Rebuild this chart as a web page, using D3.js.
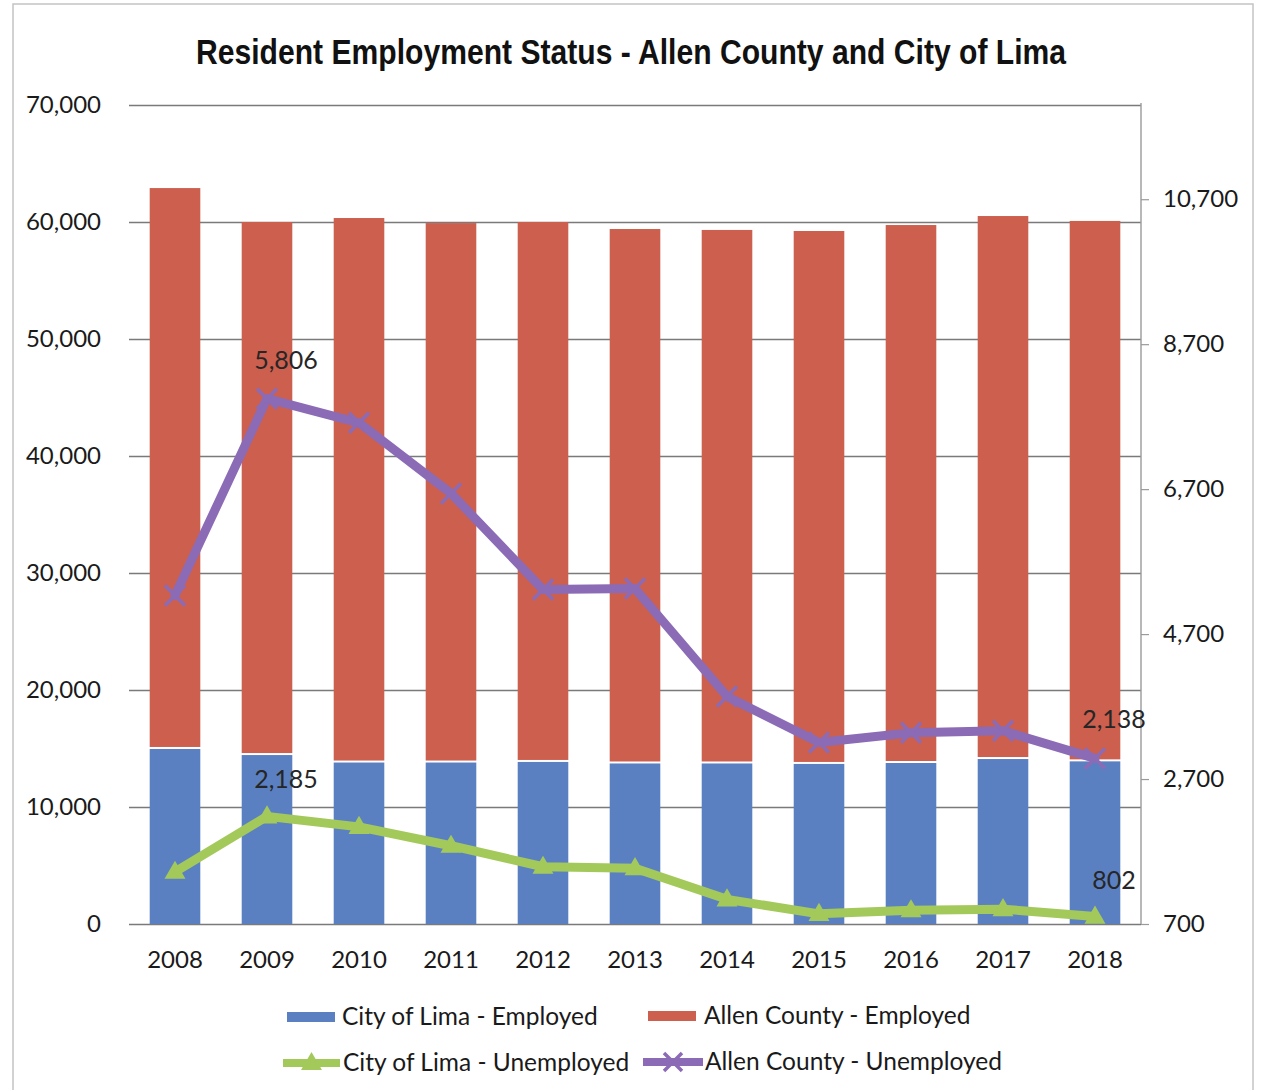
<!DOCTYPE html>
<html>
<head>
<meta charset="utf-8">
<script src="https://cdn.jsdelivr.net/npm/d3@7/dist/d3.min.js"></script>
<style>
  html, body { margin: 0; padding: 0; background: #fff; }
  svg { display: block; }
  .tick text { font-family: Lato, "Open Sans", sans-serif; fill: #1a1a1a; }
</style>
</head>
<body>
<svg id="chart" width="1261" height="1090"></svg>
<script>
// Resident employment figures, 2008-2018
const years = ["2008", "2009", "2010", "2011", "2012", "2013", "2014", "2015", "2016", "2017", "2018"];
const limaEmployed = [14960, 14440, 13800, 13800, 13850, 13720, 13720, 13680, 13760, 14100, 13900];
const countyEmployed = [47940, 45560, 46540, 46110, 46150, 45680, 45600, 45550, 45980, 46410, 46190];
const limaUnemployed = [1420, 2185, 2040, 1780, 1490, 1470, 1040, 840, 890, 905, 802];
const countyUnemployed = [3800, 5806, 5560, 4840, 3860, 3870, 2770, 2300, 2400, 2420, 2138];

// Axis ticks
const leftTicks = [0, 10000, 20000, 30000, 40000, 50000, 60000, 70000];
const rightTicks = [700, 2700, 4700, 6700, 8700, 10700];

// Years that carry a value label on the unemployment lines
const labelledYears = ["2009", "2018"];

const title = "Resident Employment Status - Allen County and City of Lima";
const legendItems = {
  limaEmp: "City of Lima - Employed",
  countyEmp: "Allen County - Employed",
  limaUnemp: "City of Lima - Unemployed",
  countyUnemp: "Allen County - Unemployed"
};

const colors = {
  limaEmp: "#5b80c2",
  countyEmp: "#cc5f4e",
  limaUnemp: "#a4c95b",
  countyUnemp: "#8c6bb6"
};

const rows = years.map((y, i) => ({
  year: y,
  limaEmp: limaEmployed[i],
  countyEmp: countyEmployed[i],
  limaUnemp: limaUnemployed[i],
  countyUnemp: countyUnemployed[i]
}));

const svg = d3.select("#chart");
const W = 1261, H = 1090;
const plot = { left: 129, right: 1141, top: 105, bottom: 924 };
const fontSize = 24;

svg.append("rect").attr("width", W).attr("height", H).attr("fill", "#fff");

// outer chart frame
svg.append("rect")
  .attr("x", 13).attr("y", 4)
  .attr("width", 1240).attr("height", H + 10)
  .attr("fill", "none").attr("stroke", "#c4c4c4").attr("stroke-width", 1.5);

// title
svg.append("text")
  .attr("x", 631).attr("y", 64)
  .attr("text-anchor", "middle")
  .attr("font-family", "'Liberation Sans Narrow', 'Arial Narrow', sans-serif")
  .attr("font-weight", "bold")
  .attr("font-size", 35)
  .attr("textLength", 870)
  .attr("lengthAdjust", "spacingAndGlyphs")
  .attr("fill", "#111")
  .text(title);

// scales
const x = d3.scaleBand().domain(years)
  .range([plot.left, plot.right])
  .paddingInner(0.45).paddingOuter(0.225);
const yLeft = d3.scaleLinear().domain([0, 70000]).range([plot.bottom, plot.top]);
const yRight = d3.scaleLinear().domain([700, 12000]).range([plot.bottom, plot.top]);
// secondary (unlabelled) axis carrying the county unemployment line
const yCounty = d3.scaleLinear().domain([450, 8800]).range([plot.bottom, plot.top]);

// gridlines
svg.append("g")
  .attr("transform", `translate(${plot.left},0)`)
  .call(d3.axisLeft(yLeft).tickValues(leftTicks).tickSize(-(plot.right - plot.left)).tickFormat(""))
  .call(g => g.select(".domain").remove())
  .call(g => g.selectAll("line").attr("stroke", "#7a7a7a").attr("stroke-width", 1.4));

// stacked bars
const stack = d3.stack().keys(["limaEmp", "countyEmp"]);
const series = stack(rows);
const barGap = 2;
svg.append("g").selectAll("g")
  .data(series)
  .join("g")
  .attr("fill", d => colors[d.key])
  .selectAll("rect")
  .data(d => d.map(v => ({ key: d.key, v })))
  .join("rect")
  .attr("x", d => x(d.v.data.year))
  .attr("width", x.bandwidth())
  .attr("y", d => yLeft(d.v[1]))
  .attr("height", d => yLeft(d.v[0]) - yLeft(d.v[1]) - (d.key === "countyEmp" ? barGap : 0));

// left axis
svg.append("g")
  .attr("transform", `translate(${plot.left},0)`)
  .call(d3.axisLeft(yLeft).tickValues(leftTicks).tickSize(0).tickPadding(28).tickFormat(d3.format(",")))
  .call(g => g.select(".domain").remove())
  .call(g => g.selectAll("text").attr("font-size", fontSize));

// right axis
svg.append("g")
  .attr("transform", `translate(${plot.right},0)`)
  .call(d3.axisRight(yRight).tickValues(rightTicks).tickSize(8).tickPadding(14).tickFormat(d3.format(",")))
  .call(g => g.select(".domain").remove())
  .call(g => g.selectAll("line").attr("stroke", "#9a9a9a").attr("stroke-width", 1.2))
  .call(g => g.selectAll("text").attr("font-size", fontSize));
svg.append("line")
  .attr("x1", plot.right).attr("x2", plot.right)
  .attr("y1", plot.top - 2).attr("y2", plot.bottom)
  .attr("stroke", "#9a9a9a").attr("stroke-width", 1.4);

// bottom axis
svg.append("g")
  .attr("transform", `translate(0,${plot.bottom})`)
  .call(d3.axisBottom(x).tickSize(0).tickPadding(27))
  .call(g => g.select(".domain").remove())
  .call(g => g.selectAll("text").attr("font-size", fontSize));

// unemployment lines
const cx = d => x(d.year) + x.bandwidth() / 2;
const triangle = d3.symbol().type(d3.symbolTriangle).size(190);

function drawLine(key, yScale, marker, labelDy) {
  const g = svg.append("g");
  g.append("path")
    .datum(rows)
    .attr("fill", "none")
    .attr("stroke", colors[key])
    .attr("stroke-width", 9)
    .attr("stroke-linejoin", "round")
    .attr("stroke-linecap", "round")
    .attr("d", d3.line().x(cx).y(d => yScale(d[key])));
  const m = g.selectAll(".m").data(rows).join("g")
    .attr("transform", d => `translate(${cx(d)},${yScale(d[key])})`);
  if (marker === "triangle") {
    m.append("path").attr("d", triangle).attr("transform", "translate(0,1)").attr("fill", colors[key]);
  } else {
    m.append("path").attr("d", "M-10,-10L10,10M-10,10L10,-10")
      .attr("stroke", colors[key]).attr("stroke-width", 3.5);
  }
  g.selectAll(".lbl")
    .data(rows.filter(d => labelledYears.includes(d.year)))
    .join("text")
    .attr("x", d => cx(d) + 19)
    .attr("y", d => yScale(d[key]) + labelDy)
    .attr("text-anchor", "middle")
    .attr("font-family", "Lato, 'Open Sans', sans-serif")
    .attr("font-size", 25)
    .attr("fill", "#262626")
    .text(d => d3.format(",")(d[key]));
}
drawLine("countyUnemp", yCounty, "x", -30);
drawLine("limaUnemp", yRight, "triangle", -28);

// legend
const legend = svg.append("g").attr("font-family", "Lato, 'Open Sans', sans-serif").attr("font-size", 24.5).attr("fill", "#1a1a1a");
function boxItem(x0, yc, key, tx) {
  legend.append("rect").attr("x", x0).attr("y", yc - 5).attr("width", 48).attr("height", 10).attr("fill", colors[key]);
  legend.append("text").attr("x", tx).attr("y", yc + 8).text(legendItems[key]);
}
function lineItem(x0, x1, yc, key, marker, tx) {
  legend.append("line").attr("x1", x0).attr("x2", x1).attr("y1", yc).attr("y2", yc)
    .attr("stroke", colors[key]).attr("stroke-width", 8);
  const mx = (x0 + x1) / 2;
  if (marker === "triangle") {
    legend.append("path").attr("d", triangle).attr("transform", `translate(${mx},${yc + 1})`).attr("fill", colors[key]);
  } else {
    legend.append("path").attr("d", "M-9,-9L9,9M-9,9L9,-9").attr("transform", `translate(${mx},${yc})`)
      .attr("stroke", colors[key]).attr("stroke-width", 3.5);
  }
  legend.append("text").attr("x", tx).attr("y", yc + 8).text(legendItems[key]);
}
boxItem(287, 1017, "limaEmp", 342);
boxItem(648, 1016, "countyEmp", 704);
lineItem(283, 340, 1063, "limaUnemp", "triangle", 343);
lineItem(643, 703, 1062, "countyUnemp", "x", 705);
</script>
</body>
</html>
